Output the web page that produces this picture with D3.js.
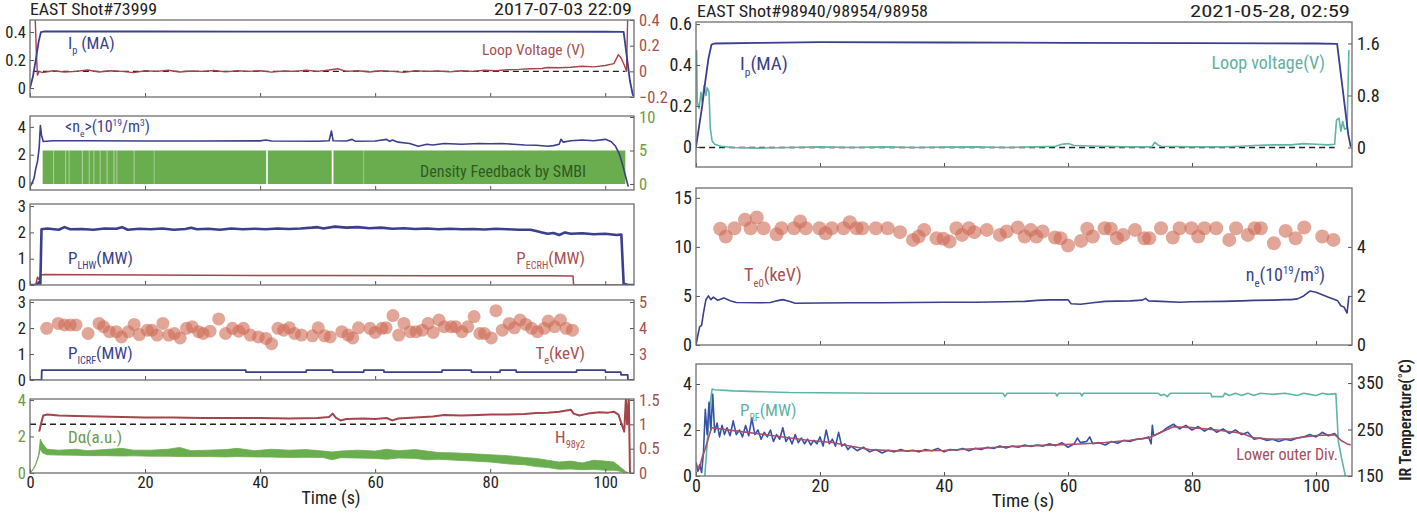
<!DOCTYPE html>
<html><head><meta charset="utf-8">
<script src="https://cdn.jsdelivr.net/npm/d3@7"></script>
<style>
body{margin:0;background:#fff;}
svg{font-family:"Roboto Condensed","Liberation Sans Narrow","Arial Narrow",Roboto,sans-serif;}
</style></head><body>
<svg id="c" width="1417" height="516"></svg>
<script>
// ---------------- DATA ----------------
const xTicks = [0,20,40,60,80,100];
// Left shot #73999
const L_ip = [[0,0],[0.5,0.08],[1.0,0.2],[1.5,0.33],[1.9,0.4],[2.5,0.405],[20,0.404],[60,0.403],[100,0.402],[103.2,0.401],[104.3,0.05],[104.8,-0.05],[105,-0.05]];
const L_vloop = [[0.9,0.42],[1.1,0.15],[1.3,-0.03],[1.6,0.0],[2.2,-0.01],[4,0.005],[6,-0.005],[8,0.0],[10,0.01],[12,-0.005],[14,0.005],[16,0.0],[18,-0.01],[20,0.005],[22,0.0],[24,0.008],[26,-0.005],[28,0.003],[30,0.0],[32,0.006],[34,-0.004],[36,0.004],[38,0.0],[40,0.005],[42,-0.006],[44,0.003],[46,0.0],[48,0.008],[50,0.0],[52,0.01],[53.5,0.02],[55,0.0],[57,0.005],[59,-0.005],[61,0.005],[63,0.0],[65,-0.008],[67,0.005],[69,0.0],[71,0.003],[73,-0.004],[75,0.005],[77,0.0],[79,0.008],[81,0.005],[83,0.012],[85,0.015],[87,0.02],[89,0.022],[90,0.03],[92,0.028],[94,0.032],[96,0.04],[98,0.035],[100,0.045],[101.5,0.06],[102.3,0.13],[102.8,0.1],[103.3,0.05],[103.7,0.0],[103.9,0.42]];
const L_ne = [[0,-0.3],[0.3,-0.1],[0.7,0.3],[1.0,1.0],[1.3,1.5],[1.6,2.5],[1.8,4.1],[2.0,3.4],[2.3,2.95],[4,3.0],[10,3.0],[20,2.98],[30,2.98],[40,2.99],[41,3.05],[42,2.98],[50,2.97],[52,3.0],[52.4,3.7],[52.7,3.0],[55,2.98],[56,3.1],[56.5,2.97],[60,2.98],[62,3.1],[62.5,2.95],[63,3.05],[64,2.9],[66,2.8],[67.5,2.6],[69,2.75],[70,2.7],[72,2.8],[75,2.75],[78,2.8],[80,2.78],[82,2.8],[84,2.75],[86,2.7],[88,2.68],[90,2.6],[91,2.65],[92,2.75],[92.3,3.1],[92.7,2.9],[94,3.0],[96,3.05],[98,3.0],[100,3.1],[101,2.95],[101.8,2.6],[102.5,2.0],[103,1.3],[103.5,0.5],[104,-0.3]];
const L_smbi = [2.2, 103.5, 5];            // start, end, level (right axis)
const L_smbiGaps = [[4.1,0.45],[6.2,0.45],[6.8,0.45],[9.1,0.5],[10.3,0.45],[11.1,0.45],[12.2,0.45],[13.4,0.5],[14.6,0.5],[15.1,0.45],[18.1,0.45],[21.6,0.35],[41.2,0.9],[52.6,1],[58,0.35]];
const L_lhw = [[0,0],[1.2,0],[1.5,0.1],[1.8,0.05],[2.0,2.12],[3,2.15],[5,2.1],[6,2.2],[7,2.12],[9,2.13],[11,2.1],[13,2.15],[15,2.14],[16,2.2],[17,2.1],[19,2.14],[21,2.12],[23,2.15],[25,2.1],[27,2.13],[28,2.18],[29,2.12],[31,2.14],[33,2.1],[35,2.15],[37,2.12],[39,2.14],[41,2.12],[43,2.15],[45,2.13],[47,2.15],[49,2.18],[50,2.2],[51,2.15],[53,2.22],[55,2.18],[57,2.2],[59,2.16],[61,2.18],[63,2.14],[65,2.16],[67,2.13],[69,2.15],[71,2.12],[73,2.14],[75,2.12],[77,2.13],[79,2.11],[81,2.14],[83,2.12],[85,2.1],[87,2.1],[88,2.05],[89,2.0],[90,1.95],[91,1.98],[92,1.9],[93,2.0],[94,1.95],[96,1.97],[98,1.93],[100,1.95],[102,1.9],[102.8,1.92],[103.2,0.05],[104,0],[105,0]];
const L_ecrh = [[0,0],[1.0,0],[1.3,0.3],[1.6,0.2],[1.9,0.38],[2.5,0.4],[10,0.39],[30,0.37],[50,0.36],[70,0.35],[90,0.35],[94.4,0.34],[94.5,0],[105,0]];
const L_icrf = [[0,0],[2.0,0],[2.05,0.38],[37.5,0.38],[37.55,0.3],[48,0.3],[48.05,0.38],[52.6,0.38],[52.65,0.3],[58,0.3],[58.05,0.38],[61.5,0.38],[61.55,0.3],[71.6,0.3],[71.65,0.38],[76.7,0.38],[76.75,0.3],[81.7,0.3],[81.75,0.38],[84.5,0.38],[84.55,0.3],[95,0.3],[95.05,0.38],[100,0.38],[100.05,0.3],[102.7,0.3],[102.75,0.2],[103.9,0.2],[103.95,0],[105,0]];
const L_te = [[2.9,3.99],[4.9,4.18],[6.0,4.12],[7.0,4.12],[8.0,4.12],[10.1,3.79],[12.0,4.18],[12.8,4.05],[13.8,3.86],[15.0,3.86],[15.9,3.66],[17.1,3.86],[18.1,4.14],[19.0,3.75],[20.4,3.92],[21.2,3.92],[22.1,3.73],[23.1,4.18],[24.1,3.73],[25.1,3.79],[26.1,3.62],[27.2,3.99],[28.2,4.05],[29.3,3.86],[30.1,3.79],[31.3,3.88],[32.8,4.35],[34.0,3.79],[35.2,3.99],[36.3,3.88],[37.1,3.99],[38.3,3.73],[39.7,3.66],[41.0,3.6],[42.0,3.4],[43.1,3.99],[44.1,3.92],[45.1,4.01],[46.0,3.79],[47.2,3.73],[49.1,3.7],[50.1,4.01],[51.2,3.7],[52.2,3.66],[54.2,3.86],[55.3,3.73],[56.1,3.62],[57.1,4.01],[59.1,3.99],[60.0,3.83],[61.2,3.99],[61.9,4.01],[63.1,4.48],[64.1,3.73],[65.0,4.18],[66.1,3.86],[67.1,3.86],[68.2,3.92],[69.2,4.18],[70.1,3.83],[71.1,4.31],[72.0,4.05],[73.2,4.05],[74.0,4.05],[75.1,3.86],[76.1,4.05],[77.2,4.44],[78.2,3.79],[79.0,3.79],[80.2,3.62],[81.0,4.67],[82.1,3.92],[83.3,4.18],[84.2,4.01],[85.2,4.31],[86.2,4.14],[87.2,3.99],[88.2,3.86],[89.4,3.99],[90.1,4.27],[91.2,4.05],[92.2,4.31],[93.2,3.99],[94.3,3.92]];
const L_h98 = [[1.6,0.85],[1.8,0.95],[2.0,1.05],[2.3,1.18],[3,1.2],[5,1.18],[8,1.17],[12,1.16],[16,1.15],[20,1.14],[25,1.14],[30,1.13],[35,1.13],[40,1.13],[45,1.12],[50,1.13],[52,1.15],[52.6,1.22],[53.2,1.13],[54,1.08],[55,1.11],[58,1.12],[60,1.11],[62,1.13],[63,1.08],[64,1.12],[67,1.14],[70,1.16],[72,1.19],[75,1.18],[78,1.19],[80,1.2],[83,1.2],[86,1.21],[88,1.23],[90,1.24],[92,1.26],[94,1.3],[94.5,1.22],[95.5,1.18],[97,1.22],[99,1.25],[100.5,1.24],[101.5,1.26],[102.3,1.2],[103,0.95],[103.3,0.85],[103.6,1.55],[103.8,1.0],[104.1,1.55],[104.3,0.0]];
const L_da = [[0,0,0],[0.5,0.15,0.2],[1,0.45,0.5],[1.5,0.9,1.0],[1.8,1.3,1.85],[2.2,1.1,1.6],[3,1.0,1.3],[5,0.98,1.25],[8,0.97,1.3],[10,0.95,1.22],[13,0.95,1.28],[16,0.93,1.35],[18,0.94,1.25],[21,0.92,1.25],[24,0.92,1.3],[26,0.9,1.4],[28,0.9,1.22],[31,0.9,1.25],[34,0.88,1.28],[36,0.9,1.35],[39,0.88,1.22],[42,0.87,1.3],[45,0.85,1.25],[48,0.86,1.28],[51,0.85,1.2],[52.5,0.72,1.15],[54,0.84,1.2],[57,0.82,1.25],[60,0.8,1.2],[62,0.75,1.3],[64,0.82,1.22],[67,0.8,1.28],[69,0.72,1.2],[71,0.75,1.12],[74,0.7,1.1],[77,0.65,1.05],[80,0.6,1.0],[83,0.5,0.95],[86,0.45,0.85],[88,0.35,0.8],[90,0.3,0.7],[92,0.2,0.6],[94,0.22,0.65],[96,0.18,0.55],[98,0.2,0.7],[100,0.15,0.65],[101.5,0.15,0.6],[102.5,0.1,0.35],[103.5,0.0,0.1],[104,0,0]];

// Right shots #98940/98954/98958
const R_ip = [[0,0],[0.5,0.1],[1,0.2],[1.5,0.32],[2,0.43],[2.5,0.5],[3,0.505],[10,0.508],[20,0.512],[40,0.51],[60,0.508],[80,0.507],[100,0.505],[103.4,0.503],[105.2,0.06],[105.6,0.0]];
const R_vloop = [[0.1,1.5],[0.2,0.7],[0.5,0.6],[0.8,0.85],[1.0,0.7],[1.3,0.95],[1.6,0.8],[1.8,0.92],[2.1,0.85],[2.3,0.3],[2.6,0.1],[3,0.05],[4,0.02],[6,0.0],[10,-0.01],[15,0.0],[20,0.01],[25,0.0],[30,0.01],[35,0.0],[40,0.005],[45,0.01],[50,0.0],[55,0.01],[58,0.02],[59,0.05],[60,0.06],[61,0.03],[65,0.02],[70,0.01],[73.5,0.01],[74,0.08],[74.5,0.04],[75,0.02],[80,0.01],[85,0.01],[88,0.02],[90,0.03],[93,0.04],[96,0.04],[98,0.06],[100,0.05],[102,0.04],[103,0.05],[103.3,0.42],[103.7,0.45],[104,0.25],[104.3,0.4],[104.6,0.28],[105,0.3],[105.3,1.5]];
const R_te0 = [[3.9,11.84],[4.8,11.05],[6.2,11.9],[7.9,12.76],[8.8,11.9],[9.8,12.99],[10.9,11.9],[13.0,11.29],[13.8,11.9],[15.8,11.9],[16.8,12.59],[17.7,11.9],[19.9,11.9],[20.9,11.39],[21.9,11.9],[23.8,11.9],[24.8,12.52],[25.9,11.9],[26.8,11.9],[29.0,11.9],[30.9,11.9],[32.9,11.5],[35.0,10.71],[35.9,11.05],[36.8,11.73],[38.8,10.88],[39.9,10.82],[40.9,10.54],[42.0,11.9],[42.9,11.22],[44.0,11.9],[44.9,11.5],[46.9,11.73],[49.0,11.22],[50.1,11.56],[51.9,11.97],[53.0,11.05],[54.0,11.73],[54.9,11.05],[55.9,11.56],[57.9,10.95],[58.8,10.88],[60.0,10.13],[62.1,10.61],[63.1,11.84],[64.0,11.05],[65.9,11.9],[66.9,11.84],[67.9,10.88],[68.9,11.22],[70.8,11.73],[72.3,10.88],[73.1,10.88],[75.0,11.9],[76.9,10.95],[78.0,11.9],[79.9,11.9],[81.0,11.05],[82.0,11.9],[83.9,11.9],[86.0,10.71],[87.1,11.9],[89.0,11.22],[90.1,11.9],[91.1,11.9],[93.2,10.37],[95.1,11.63],[96.7,10.88],[98.1,11.97],[101.0,11.05],[102.8,10.71]];
const R_ne = [[0,0],[0.3,0.4],[0.6,0.75],[0.9,0.8],[1.2,1.3],[1.6,1.85],[2.0,2.0],[2.4,1.85],[2.8,1.95],[3.5,1.82],[4.5,1.92],[5.5,1.8],[6.5,1.73],[10,1.72],[12,1.73],[13,1.8],[14,1.85],[15,1.78],[16,1.7],[20,1.71],[25,1.72],[30,1.72],[35,1.73],[40,1.74],[45,1.74],[50,1.76],[53,1.78],[55,1.82],[57,1.84],[60,1.84],[60.5,1.68],[62,1.66],[64,1.72],[66,1.78],[70,1.8],[72,1.83],[72.5,1.9],[73,1.8],[75,1.78],[78,1.74],[80,1.76],[85,1.78],[88,1.8],[90,1.82],[93,1.83],[95,1.85],[96,1.85],[97,1.88],[98,2.0],[99,2.2],[100,2.15],[101,2.05],[102,1.95],[103,1.85],[103.5,1.8],[104,1.6],[104.5,1.55],[105,1.3],[105.3,2.0]];
const R_prf = [[0,-0.05],[1.4,-0.05],[2.3,3.2],[2.6,3.78],[3,3.75],[6,3.7],[10,3.67],[15,3.63],[20,3.62],[30,3.6],[40,3.6],[49.5,3.6],[49.8,3.45],[50.2,3.6],[58,3.6],[58.2,3.48],[58.5,3.6],[62,3.6],[62.2,3.48],[62.5,3.6],[74.5,3.6],[75,3.5],[75.5,3.55],[76,3.45],[76.5,3.6],[83,3.6],[83.2,3.45],[85,3.45],[85.3,3.6],[86,3.5],[87,3.6],[88,3.5],[89,3.6],[90,3.5],[91,3.6],[93,3.55],[95,3.6],[97,3.5],[98,3.6],[99,3.55],[100,3.5],[101,3.6],[102,3.55],[103.2,3.58],[103.6,1.5],[104.1,0.8],[104.5,0.3],[104.8,-0.1]];
const R_irRaw = [[0,0.6],[0.3,0.2],[0.6,0.5],[0.9,0.15],[1.2,1.0],[1.5,2.9],[1.8,1.8],[2.1,3.2],[2.4,2.0],[2.7,3.55],[3.0,1.9],[3.4,2.3],[3.8,1.7],[4.2,2.2],[4.6,1.8],[5,2.1],[5.5,1.75],[6,2.4],[6.5,1.8],[7,2.0],[7.5,1.7],[8,2.2],[8.5,1.75],[9,2.5],[9.5,1.8],[10,2.0],[10.5,1.6],[11,1.9],[11.5,1.7],[12,2.0],[12.5,1.5],[13,1.8],[13.5,1.6],[14,2.1],[14.5,1.5],[15,1.7],[15.5,1.4],[16,1.8],[16.5,1.45],[17,1.65],[17.5,1.4],[18,1.6],[18.5,1.35],[19,1.55],[19.5,1.4],[20,1.7],[20.5,1.3],[21,2.0],[21.5,1.4],[22,1.6],[22.5,1.3],[23,1.9],[23.5,1.3],[24,1.4],[24.5,1.15],[25,1.3],[26,1.1],[27,1.25],[28,1.05],[29,1.15],[30,1.0],[31,1.12],[32,1.05],[33,1.15],[34,1.08],[35,1.12],[36,1.05],[37,1.15],[38,1.1],[39,1.2],[40,1.05],[41,1.15],[42,1.12],[43,1.2],[44,1.1],[45,1.2],[46,1.15],[47,1.25],[48,1.2],[49,1.3],[50,1.22],[51,1.3],[52,1.25],[53,1.35],[54,1.28],[55,1.35],[56,1.3],[57,1.4],[58,1.32],[59,1.45],[60,1.25],[61,1.4],[61.5,1.65],[62,1.45],[63,1.5],[63.5,1.7],[64,1.4],[65,1.45],[66,1.35],[67,1.5],[68,1.42],[69,1.55],[70,1.5],[71,1.6],[72,1.62],[73,1.7],[73.4,1.4],[73.6,2.2],[73.8,1.75],[75,1.9],[76,2.1],[77,2.25],[78,2.05],[79,2.2],[80,2.0],[81,2.15],[82,1.95],[83,2.1],[84,1.9],[85,2.05],[86,1.85],[87,2.0],[88,1.8],[89,1.9],[90,1.6],[91,1.65],[92,1.55],[93,1.6],[94,1.5],[95,1.6],[96,1.55],[97,1.65],[98,1.7],[99,1.8],[100,1.7],[101,1.9],[102,1.75],[103,1.85],[103.5,1.7]];
const R_irDiv = [[0,175],[0.5,165],[1,190],[1.5,209],[2.5,254],[4,251],[7,246],[10,241],[14,234],[18,227],[22,222],[25,214],[28,207],[32,204],[40,205],[50,213],[58,217],[62,219],[66,222],[70,227],[73,232],[75,244],[77,256],[80,254],[84,249],[88,242],[90,232],[93,229],[96,230],[100,237],[103,239],[104,227],[105,219],[105.6,217]];

// ---------------- DRAWING ----------------
const svg = d3.select("#c");
const defs = svg.append("defs");
const NAVY="#3b3f8c", RED="#a5444a", REDT="#a8504f", GREEN="#6aad4e", GREENT="#6f9a45", TEAL="#5fb5a5", BOX="#6e6e6e", TXT="#222";
let clipN=0;
function makePanel(o){
  const x=d3.scaleLinear().domain(o.xd).range([o.x0,o.x1]);
  const yl=d3.scaleLinear().domain(o.yl).range([o.y1,o.y0]);
  const yr=o.yr?d3.scaleLinear().domain(o.yr).range([o.y1,o.y0]):null;
  const id="clip"+(clipN++);
  defs.append("clipPath").attr("id",id).append("rect").attr("x",o.x0).attr("y",o.y0).attr("width",o.x1-o.x0).attr("height",o.y1-o.y0);
  const g=svg.append("g");
  const plot=g.append("g").attr("clip-path",`url(#${id})`);
  return {x,yl,yr,g,plot,o};
}
function styleAxis(a,color,fs){
  a.attr("font-family",null).attr("font-size",fs);
  a.select(".domain").remove();
  a.selectAll(".tick line").attr("stroke","#555").attr("stroke-width",1);
  a.selectAll(".tick text").attr("fill",color);
}
function finish(p,left,right,xlab,fs){
  const o=p.o;
  const al=p.g.append("g").attr("transform",`translate(${o.x0},0)`)
    .call(d3.axisLeft(p.yl).tickValues(left.t).tickFormat(left.f||d3.format("~g")).tickSizeInner(-4).tickSizeOuter(0).tickPadding(4));
  styleAxis(al,left.c||TXT,fs);
  if(right){
    const ar=p.g.append("g").attr("transform",`translate(${o.x1},0)`)
      .call(d3.axisRight(p.yr).tickValues(right.t).tickFormat(right.f||d3.format("~g")).tickSizeInner(-4).tickSizeOuter(0).tickPadding(5));
    styleAxis(ar,right.c||TXT,fs);
  }
  const ab=p.g.append("g").attr("transform",`translate(0,${o.y1})`)
    .call(d3.axisBottom(p.x).tickValues(xTicks).tickFormat(xlab?d3.format("d"):"").tickSizeInner(-4).tickSizeOuter(0).tickPadding(3));
  styleAxis(ab,TXT,fs);
  p.g.append("rect").attr("x",o.x0).attr("y",o.y0).attr("width",o.x1-o.x0).attr("height",o.y1-o.y0)
    .attr("fill","none").attr("stroke",BOX).attr("stroke-width",1.3);
}
function line(p,data,y,color,w){
  const l=d3.line().x(d=>p.x(d[0])).y(d=>y(d[1]));
  return p.plot.append("path").datum(data).attr("d",l).attr("fill","none").attr("stroke",color).attr("stroke-width",w).attr("stroke-linejoin","round");
}
function dashed(p,y,v,t0,t1){
  p.plot.append("line").attr("x1",p.x(t0)).attr("x2",p.x(t1)).attr("y1",y(v)).attr("y2",y(v))
   .attr("stroke","#222").attr("stroke-width",1.4).attr("stroke-dasharray","6,4");
}
function dots(p,data,y,r){
  p.plot.append("g").selectAll("circle").data(data).join("circle")
   .attr("cx",d=>p.x(d[0])).attr("cy",d=>y(d[1])).attr("r",r)
   .attr("fill","#cf6a55").attr("fill-opacity",0.6);
}
function rich(x,y,parts,color,anchor,size){
  size=size||16;
  const t=svg.append("text").attr("x",x).attr("y",y).attr("fill",color).attr("font-size",size).attr("text-anchor",anchor||"start");
  let cur=0;
  parts.forEach(p=>{
    const [s,k]=Array.isArray(p)?p:[p,"n"];
    const tgt=k==="sub"?size*0.32:(k==="sup"?-size*0.4:0);
    const ts=t.append("tspan").text(s).attr("dy",tgt-cur);
    if(k!=="n") ts.attr("font-size",size*0.6);
    cur=tgt;
  });
  return t;
}
function plain(x,y,s,size,anchor,len){
  const t=svg.append("text").attr("x",x).attr("y",y).attr("font-size",size).attr("fill",TXT).attr("text-anchor",anchor||"start").text(s);
  if(len) t.attr("textLength",len).attr("lengthAdjust","spacingAndGlyphs");
  return t;
}

// ===== LEFT =====
const LX0=30, LX1=634, LXD=[0,105];
plain(30,15,"EAST Shot#73999",16,"start",127);
plain(632,15,"2017-07-03 22:09",16,"end",138);

// P1
let p=makePanel({x0:LX0,x1:LX1,y0:20,y1:97,xd:LXD,yl:[-0.064,0.486],yr:[-0.2,0.4]});
dashed(p,p.yr,0,0.5,103.5);
line(p,L_vloop,p.yr,RED,1.4);
line(p,L_ip,p.yl,NAVY,1.8);
finish(p,{t:[0,0.2,0.4]},{t:[-0.2,0,0.2,0.4],c:REDT},false,16.5);
rich(68,49,["I",["p","sub"]," (MA)"],NAVY,"start",17);
rich(585,55,["Loop Voltage (V)"],REDT,"end",15.5);

// P2
p=makePanel({x0:LX0,x1:LX1,y0:116,y1:190,xd:LXD,yl:[-0.54,4.78],yr:[-0.9,10.15]});
p.plot.append("rect").attr("x",p.x(L_smbi[0])).attr("width",p.x(L_smbi[1])-p.x(L_smbi[0]))
  .attr("y",p.yr(L_smbi[2])).attr("height",p.yr(0)-p.yr(L_smbi[2])).attr("fill",GREEN);
p.plot.append("g").selectAll("line").data(L_smbiGaps).join("line")
  .attr("x1",d=>p.x(d[0])).attr("x2",d=>p.x(d[0])).attr("y1",p.yr(L_smbi[2])).attr("y2",p.yr(0))
  .attr("stroke","#fff").attr("stroke-opacity",d=>d[1]).attr("stroke-width",d=>d[1]>0.8?1.8:1);
line(p,L_ne,p.yl,NAVY,1.6);
finish(p,{t:[0,2,4]},{t:[0,5,10],c:GREENT},false,16.5);
rich(65,132,["<n",["e","sub"],">(10",["19","sup"],"/m",["3","sup"],")"],NAVY,"start",16);
rich(503,177,["Density Feedback by SMBI"],"#2f5a22","middle",16);

// P3
p=makePanel({x0:LX0,x1:LX1,y0:204,y1:285,xd:LXD,yl:[0,3.08]});
line(p,L_ecrh,p.yl,RED,1.5);
line(p,L_lhw,p.yl,NAVY,2.6);
finish(p,{t:[0,1,2,3]},null,false,16.5);
rich(68,264,["P",["LHW","sub"],"(MW)"],NAVY,"start",17);
rich(585,264,["P",["ECRH","sub"],"(MW)"],REDT,"end",17);

// P4
p=makePanel({x0:LX0,x1:LX1,y0:300,y1:380,xd:LXD,yl:[0,3.08],yr:[2,5.08]});
line(p,L_icrf,p.yl,NAVY,1.8);
dots(p,L_te,p.yr,6.5);
finish(p,{t:[0,1,2,3]},{t:[3,4,5],c:REDT},false,16.5);
rich(68,359,["P",["ICRF","sub"],"(MW)"],NAVY,"start",17);
rich(585,359,["T",["e","sub"],"(keV)"],REDT,"end",17);

// P5
p=makePanel({x0:LX0,x1:LX1,y0:399,y1:473,xd:LXD,yl:[0,4.05],yr:[0,1.52]});
p.plot.append("path").datum(L_da).attr("fill",GREEN).attr("stroke",GREEN).attr("stroke-width",0.8)
  .attr("d",d3.area().x(d=>p.x(d[0])).y0(d=>p.yl(d[1])).y1(d=>p.yl(d[2])));
dashed(p,p.yr,1,0,103);
line(p,L_h98,p.yr,RED,2);
finish(p,{t:[0,2,4],c:GREENT},{t:[0,0.5,1,1.5],c:REDT},true,16.5);
rich(68,443,["Dα(a.u.)"],GREENT,"start",17);
rich(585,443,["H",["98y2","sub"]],REDT,"end",17);
plain(331,504,"Time (s)",18,"middle");

// ===== RIGHT =====
const RX0=696, RX1=1352, RXD=[0,105.8];
plain(697,17,"EAST Shot#98940/98954/98958",16,"start",231);
plain(1350,17,"2021-05-28, 02:59",16,"end",160);

// R1
p=makePanel({x0:RX0,x1:RX1,y0:22,y1:167,xd:RXD,yl:[-0.098,0.61],yr:[-0.3,1.93]});
dashed(p,p.yr,0,0.5,103);
line(p,R_vloop,p.yr,TEAL,1.6);
line(p,R_ip,p.yl,NAVY,1.8);
finish(p,{t:[0,0.2,0.4,0.6]},{t:[0,0.8,1.6]},false,18);
rich(740,70,["I",["p","sub"],"(MA)"],NAVY,"start",19);
rich(1325,69,["Loop voltage(V)"],"#62b0a2","end",18);

// R2
p=makePanel({x0:RX0,x1:RX1,y0:188,y1:345,xd:RXD,yl:[0,16],yr:[0,6.4]});
dots(p,R_te0,p.yl,7);
line(p,R_ne,p.yr,NAVY,1.6);
finish(p,{t:[0,5,10,15]},{t:[0,2,4]},false,18);
rich(744,281,["T",["e0","sub"],"(keV)"],REDT,"start",18);
rich(1325,281,["n",["e","sub"],"(10",["19","sup"],"/m",["3","sup"],")"],NAVY,"end",18);

// R3
p=makePanel({x0:RX0,x1:RX1,y0:364,y1:476,xd:RXD,yl:[0,4.87],yr:[150,391]});
line(p,R_prf,p.yl,TEAL,1.6);
line(p,R_irRaw,p.yl,"#3552a8",1.6);
line(p,R_irDiv,p.yr,"#a6506a",1.6);
finish(p,{t:[0,2,4]},{t:[150,250,350]},true,18);
rich(740,416,["P",["RF","sub"],"(MW)"],"#62b0a2","start",17);
rich(1338,460,["Lower outer Div."],"#a8505a","end",16);
plain(1023,507,"Time (s)",19,"middle");
svg.append("text").attr("transform","translate(1411,420) rotate(-90)").attr("font-size",16).attr("font-weight",600)
  .attr("fill",TXT).attr("text-anchor","middle").text("IR Temperature(˚C)");
</script>
</body></html>
